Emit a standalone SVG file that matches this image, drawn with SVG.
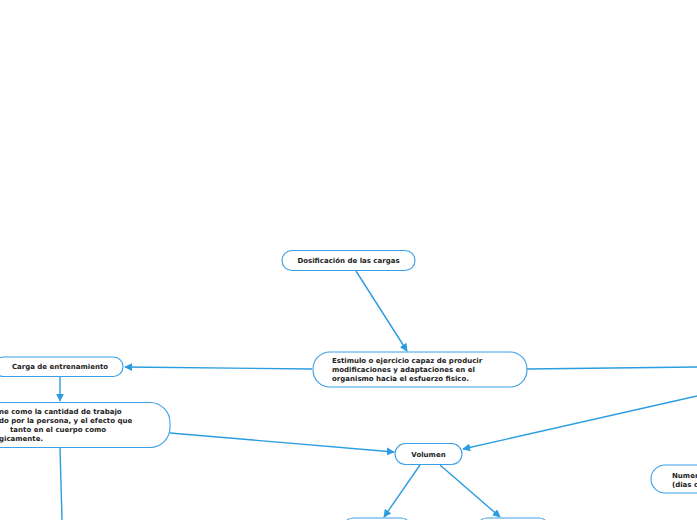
<svg xmlns="http://www.w3.org/2000/svg" width="697" height="520" viewBox="0 0 697 520">
<defs>
<marker id="arr" viewBox="0 0 10 10" refX="9" refY="5" markerWidth="8" markerHeight="8" markerUnits="userSpaceOnUse" orient="auto">
<path d="M0,0 L10,5 L0,10 z" fill="#2a9de0"/>
</marker>
</defs>
<style>
.node{fill:#ffffff;stroke:#3a9fe6;stroke-width:1.1}
.t{font-family:"DejaVu Sans",Verdana,sans-serif;font-weight:bold;font-size:7px;fill:#222222}
.c{text-anchor:middle}
.ln{fill:none;stroke:#2a9de0;stroke-width:1.4}
.ar{marker-end:url(#arr)}
</style>
<rect width="697" height="520" fill="#ffffff"/>
<g id="connectors">
<line class="ln ar" x1="356" y1="271" x2="407" y2="351"/>
<line class="ln ar" x1="312" y1="369" x2="125" y2="367"/>
<line class="ln" x1="527" y1="369" x2="697" y2="367"/>
<line class="ln ar" x1="697" y1="396" x2="463" y2="449"/>
<line class="ln ar" x1="60" y1="377" x2="60" y2="401"/>
<line class="ln ar" x1="170" y1="433" x2="394" y2="452"/>
<line class="ln" x1="60" y1="448" x2="62" y2="520"/>
<line class="ln ar" x1="420" y1="465" x2="384" y2="517"/>
<line class="ln ar" x1="440" y1="465" x2="500" y2="517"/>
</g>
<g id="dosificacion">
<rect class="node" x="282" y="250.5" width="133" height="20" rx="10"/>
<text class="t c" x="348.5" y="262.5">Dosificación de las cargas</text>
</g>
<g id="estimulo">
<rect class="node" x="313" y="352" width="214" height="35" rx="17"/>
<text class="t" x="332" y="363">Estimulo o ejercicio capaz de producir</text>
<text class="t" x="332" y="372">modificaciones y adaptaciones en el</text>
<text class="t" x="332" y="381">organismo hacia el esfuerzo fisico.</text>
</g>
<g id="carga">
<rect class="node" x="-6" y="357" width="129" height="19.5" rx="9.5"/>
<text class="t c" x="60" y="369">Carga de entrenamiento</text>
</g>
<g id="definicion">
<rect class="node" x="-60" y="402.5" width="230" height="45" rx="20"/>
<text class="t" x="-1" y="414">ne como la cantidad de trabajo</text>
<text class="t" x="-1" y="423">do por la persona, y el efecto que</text>
<text class="t" x="10" y="432">tanto en el cuerpo como</text>
<text class="t" x="-1" y="441">gicamente.</text>
</g>
<g id="volumen">
<rect class="node" x="395" y="443.5" width="67" height="21" rx="10.5"/>
<text class="t c" x="428.5" y="457">Volumen</text>
</g>
<g id="numero">
<rect class="node" x="651" y="465" width="120" height="28" rx="14"/>
<text class="t" x="672" y="478">Numer</text>
<text class="t" x="672" y="487">(dias c</text>
</g>
<g id="bottom-left">
<rect class="node" x="343" y="518" width="68" height="22" rx="10"/>
</g>
<g id="bottom-right">
<rect class="node" x="477" y="518" width="72" height="22" rx="10"/>
</g>
</svg>
